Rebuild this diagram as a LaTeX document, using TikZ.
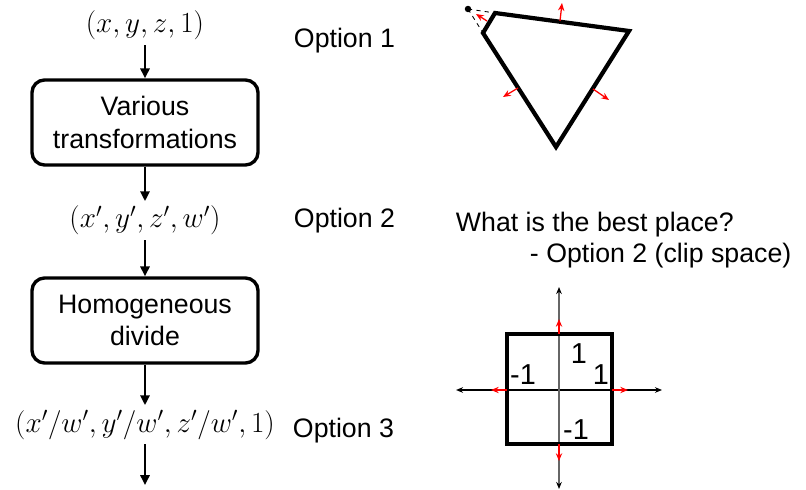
\documentclass[tikz,border=0pt]{standalone}
\usepackage{fontspec}
\setmainfont{Liberation Sans}
\usetikzlibrary{arrows.meta}
\begin{document}
\begin{tikzpicture}[x=0.025cm,y=-0.025cm,>=stealth,font=\fontsize{19}{23}\selectfont]
\tikzset{stage/.style={draw,line width=2.4pt,rounded corners=9pt,minimum width=5.65cm,minimum height=2.125cm,align=center,inner sep=0pt},
  coords/.style={anchor=base,font=\fontsize{21.5}{25}\selectfont},
  flow/.style={-{Triangle[length=7pt,width=6.5pt]},line width=2pt},
  normal/.style={-{Stealth[length=5.5pt,width=4.5pt]},red,line width=0.9pt},
  axis/.style={{Stealth[length=5pt,width=4pt,black]}-{Stealth[length=5pt,width=4pt,black]},line width=0.9pt},
  unit/.style={font=\fontsize{20.5}{24}\selectfont}}
\useasboundingbox (0,0) rectangle (806,490);
% pipeline
\node[coords] (p0) at (145,33) {$(x,y,z,1)$};
\node[stage] (xform) at (145,122.5) {Various\\transformations};
\node[coords] (p1) at (145,228) {$(x',y',z',w')$};
\node[stage] (hdiv) at (145,320.5) {Homogeneous\\divide};
\node[coords] (p2) at (145,432) {$(x'/w',y'/w',z'/w',1)$};
\coordinate (out) at (145,485);
\draw[flow] (p0) -- (xform);
\draw[flow] (xform) -- (p1);
\draw[flow] (p1) -- (hdiv);
\draw[flow] (hdiv) -- (p2);
\draw[flow] (p2) -- (out);
\node[anchor=base west] (opt1) at (289,48) {Option 1};
\node[anchor=base west] (opt2) at (289,228) {Option 2};
\node[anchor=base west] (opt3) at (288,437) {Option 3};
% question
\node[anchor=base west] (ask) at (451,232) {What is the best place?};
\node[anchor=base west] (ans) at (525,263) {- Option 2 (clip space)};
% clipped triangle
\coordinate (eye) at (468,9);
\coordinate (ta) at (483,33);
\coordinate (tb) at (495,13);
\coordinate (tc) at (629,31);
\coordinate (td) at (556,147);
\draw[dashed,line width=0.6pt] (eye) -- (ta);
\draw[dashed,line width=0.6pt] (eye) -- (tb);
\fill (eye) circle (2.3pt);
\draw[line width=3pt,line join=miter] (ta) -- (tb) -- (tc) -- (td) -- cycle;
\draw[normal] (487,21) -- (476,14);
\draw[normal] (560,21) -- (562,3);
\draw[normal] (518,88) -- (503,97);
\draw[normal] (593,89) -- (609,100);
% clip space square
\draw[axis] (456,390) -- (662,390);
\draw[axis,gray!80!black] (559,287) -- (559,489);
\draw[line width=2.4pt] (507,334) rectangle (612,444);
\draw[normal] (559,334) -- (559,319);
\draw[normal] (559,444) -- (559,461);
\draw[normal] (507,390) -- (491,390);
\draw[normal] (612,390) -- (628,390);
\node[unit] (ytop) at (579,354) {1};
\node[unit] (xright) at (601,375) {1};
\node[unit] (xleft) at (523,375) {-1};
\node[unit] (ybot) at (576,430) {-1};
\end{tikzpicture}
\end{document}
